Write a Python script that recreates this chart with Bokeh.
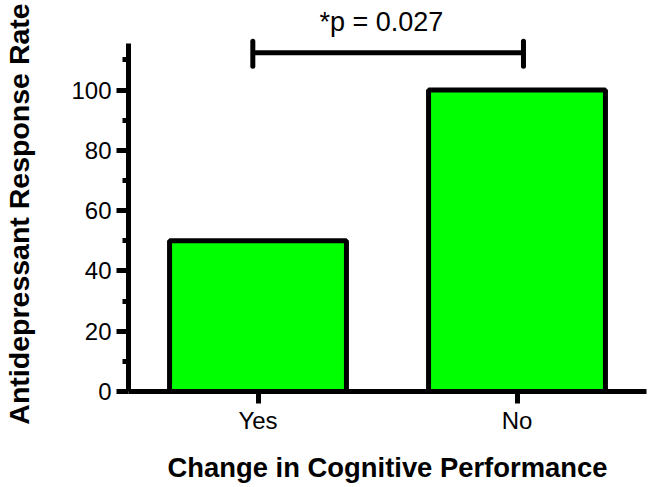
from bokeh.plotting import figure
from bokeh.models import FixedTicker, Range1d
from bokeh.embed import file_html
from bokeh.resources import INLINE

categories = ["Yes", "No"]
response_rate = [50, 100]
y_major_ticks = [0, 20, 40, 60, 80, 100]
y_minor_ticks = [10, 30, 50, 70, 90, 110]
p_label = "*p = 0.027"
x_title = "Change in Cognitive Performance"
y_title = "Antidepressant Response Rate"

FONT = "Liberation Sans"
xs = list(range(len(categories)))

p = figure(width=653, height=487, output_backend="svg", toolbar_location=None,
           x_range=Range1d(-0.5, 1.5), y_range=Range1d(0, 117.75),
           min_border_left=125, min_border_right=7, min_border_top=36, min_border_bottom=96)
p.outline_line_color = None
p.xgrid.visible = False
p.ygrid.visible = False
p.background_fill_color = "white"
p.border_fill_color = "white"

p.vbar(x=xs, top=response_rate, width=0.683, bottom=0,
       fill_color="#00FF00", line_color="black", line_width=5)

# significance bracket
bx0, bx1, by, cap_lo, cap_hi = -0.02, 1.025, 112.4, 107.9, 116.2
p.line(x=[bx0, bx1], y=[by, by], line_color="black", line_width=5)
p.segment(x0=[bx0, bx1], y0=[cap_lo, cap_lo], x1=[bx0, bx1], y1=[cap_hi, cap_hi],
          line_color="black", line_width=5, line_cap="round")

# significance text as title above the frame
p.title.text = p_label
p.title.align = "left"
p.title.offset = 191
p.title.vertical_align = "bottom"
p.title.standoff = 0
p.title.text_font = FONT
p.title.text_font_style = "normal"
p.title.text_font_size = "27px"
p.title.text_color = "black"

# x axis
xa = p.xaxis[0]
xa.ticker = FixedTicker(ticks=xs)
xa.major_label_overrides = {i: c for i, c in enumerate(categories)}
xa.axis_line_width = 5
xa.axis_line_color = "black"
xa.major_tick_line_width = 5
xa.major_tick_out = 12
xa.major_tick_in = 0
xa.minor_tick_line_color = None
xa.major_label_text_font = FONT
xa.major_label_text_font_size = "24px"
xa.major_label_text_color = "black"
xa.major_label_standoff = 3
xa.axis_label = x_title
xa.axis_label_text_font = FONT
xa.axis_label_text_font_style = "bold"
xa.axis_label_text_font_size = "27.4px"
xa.axis_label_text_color = "black"
xa.axis_label_standoff = 15

# y axis
ya = p.yaxis[0]
ya.ticker = FixedTicker(ticks=y_major_ticks, minor_ticks=y_minor_ticks)
ya.bounds = (-0.85, 115.5)
ya.axis_line_width = 5
ya.axis_line_color = "black"
ya.major_tick_line_width = 5
ya.major_tick_out = 12
ya.major_tick_in = 0
ya.minor_tick_line_width = 5
ya.minor_tick_line_color = "black"
ya.minor_tick_out = 6
ya.minor_tick_in = 0
ya.major_label_text_font = FONT
ya.major_label_text_font_size = "24px"
ya.major_label_text_color = "black"
ya.major_label_standoff = 5
ya.major_label_orientation = "horizontal"
ya.axis_label = y_title
ya.axis_label_text_font = FONT
ya.axis_label_text_font_style = "bold"
ya.axis_label_text_font_size = "28.5px"
ya.axis_label_text_color = "black"
ya.axis_label_standoff = 33

open("out.html", "w").write(file_html(p, INLINE))
